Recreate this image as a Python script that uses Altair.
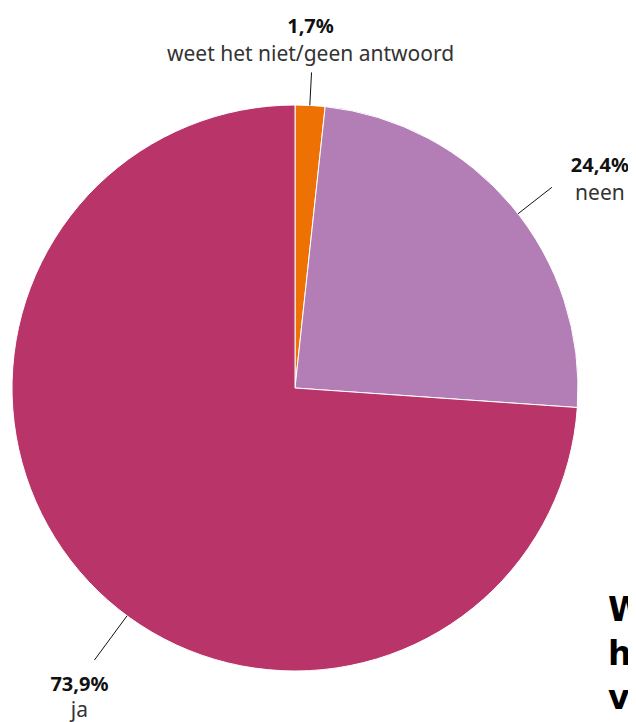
import math
import altair as alt
import pandas as pd

# ---- data ----
categories = ["weet het niet/geen antwoord", "neen", "ja"]
values = [1.7, 24.4, 73.9]
pct_labels = ["1,7%", "24,4%", "73,9%"]
colors = ["#EE7203", "#B27EB5", "#B93468"]
title_lines = ["Wist u van", "het bestaan", "van deze regeling?"]

# ---- layout ----
W, H = 620, 714
CX, CY, R = 287, 380, 283
leader_angle = [3.0, 52.0, 216.4]      # degrees clockwise from 12 o'clock
leader_len = [33, 43, 55]
pct_offset = [(-1, -45), (48, -21), (-15, 25)]
name_offset = [(-1, -17), (48, 7), (-15, 51)]

pie_df = pd.DataFrame({"cat": categories, "val": values, "idx": list(range(len(values)))})

lines, labels = [], []
for i, c in enumerate(categories):
    a = math.radians(leader_angle[i])
    x1, y1 = CX + R * math.sin(a), CY - R * math.cos(a)
    r2 = R + leader_len[i]
    x2, y2 = CX + r2 * math.sin(a), CY - r2 * math.cos(a)
    lines.append({"x": x1, "y": y1, "x2": x2, "y2": y2})
    labels.append({"x": x2 + pct_offset[i][0], "y": y2 + pct_offset[i][1], "t": pct_labels[i], "w": "bold"})
    labels.append({"x": x2 + name_offset[i][0], "y": y2 + name_offset[i][1], "t": c, "w": "normal"})

line_df = pd.DataFrame(lines)
lab_df = pd.DataFrame(labels)
title_df = pd.DataFrame({"t": title_lines, "y": [613, 657, 701]})

pie = alt.Chart(pie_df).mark_arc(outerRadius=R, stroke="white", strokeWidth=1).encode(
    theta=alt.Theta("val:Q", stack=True),
    order=alt.Order("idx:Q"),
    color=alt.Color("cat:N", scale=alt.Scale(domain=categories, range=colors), legend=None),
    x=alt.value(CX),
    y=alt.value(CY),
)

leaders = alt.Chart(line_df).mark_rule(color="#111111", strokeWidth=1).encode(
    x=alt.X("x:Q", scale=None), y=alt.Y("y:Q", scale=None),
    x2="x2:Q", y2="y2:Q",
)

pct_text = alt.Chart(lab_df[lab_df.w == "bold"]).mark_text(
    font="Noto Sans", fontSize=20, fontWeight="bold", color="#111111", baseline="middle", align="center"
).encode(x=alt.X("x:Q", scale=None), y=alt.Y("y:Q", scale=None), text="t:N")

name_text = alt.Chart(lab_df[lab_df.w == "normal"]).mark_text(
    font="Noto Sans", fontSize=21, color="#333333", baseline="middle", align="center"
).encode(x=alt.X("x:Q", scale=None), y=alt.Y("y:Q", scale=None), text="t:N")

title = alt.Chart(title_df).mark_text(
    font="DejaVu Sans", fontSize=33, fontWeight="bold", color="#000000", baseline="alphabetic", align="left"
).encode(x=alt.value(600), y=alt.Y("y:Q", scale=None), text="t:N")

chart = alt.layer(pie, leaders, pct_text, name_text, title).properties(
    width=W, height=H, padding=0,
    autosize=alt.AutoSizeParams(type="none"),
    background="white",
).configure_view(stroke=None)

chart.save("out.html", embed_options={"renderer": "svg", "actions": False})
